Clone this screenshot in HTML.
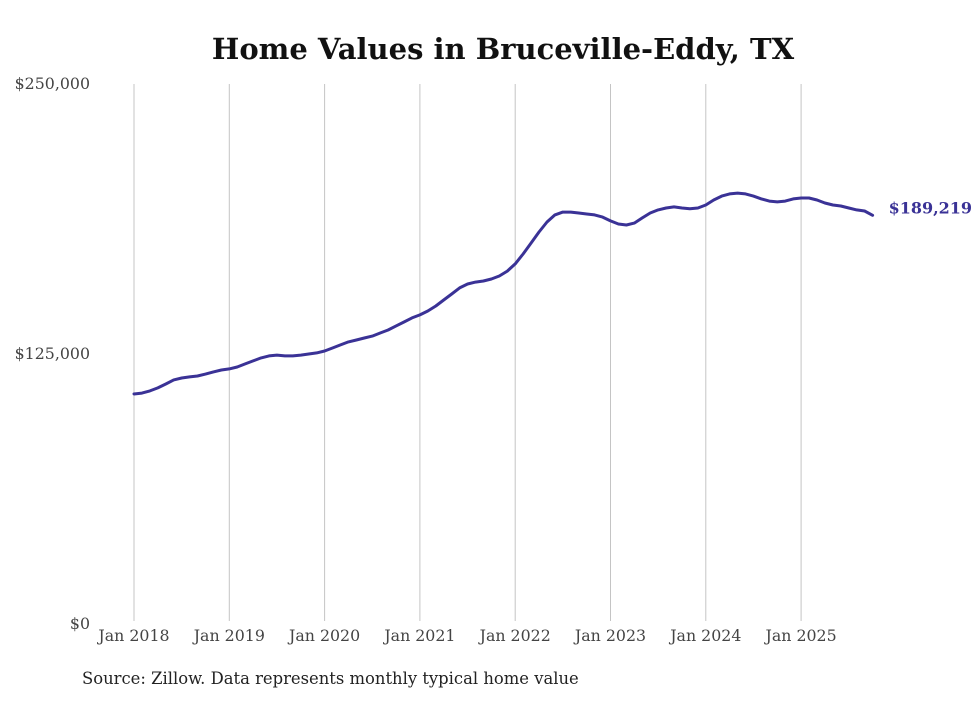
<!DOCTYPE html>
<html><head><meta charset="utf-8">
<style>
body{margin:0;background:#fff;width:980px;height:699px;overflow:hidden;font-family:"DejaVu Serif","Liberation Serif",serif;}
</style></head>
<body>
<svg id="chart" width="980" height="699" xmlns="http://www.w3.org/2000/svg">
<text x="503" y="59" text-anchor="middle" font-size="29" font-weight="bold" fill="#111">Home Values in Bruceville-Eddy, TX</text>
<g id="grid"></g>
<g id="yticks"></g>
<g id="xticks"></g>
<path id="line" fill="none" stroke="#3a3296" stroke-width="3" stroke-linejoin="round" stroke-linecap="round"/>
<text id="endlabel" font-size="16" font-weight="bold" fill="#3a3296"></text>
<text x="82" y="684" font-size="16.4" fill="#222">Source: Zillow. Data represents monthly typical home value</text>
</svg>
<script>
const yearLabels=["Jan 2018","Jan 2019","Jan 2020","Jan 2021","Jan 2022","Jan 2023","Jan 2024","Jan 2025"];
const yTickValues=[0,125000,250000];
const yTickLabels=["$0","$125,000","$250,000"];
const values=[
106.5,106.9,107.9,109.3,111.1,113.0,113.9,114.4,114.8,115.7,116.7,117.6,
118.1,119.0,120.4,121.8,123.2,124.1,124.5,124.1,124.1,124.5,125.0,125.5,
126.4,127.8,129.2,130.6,131.5,132.4,133.3,134.7,136.1,138.0,139.8,141.7,
143.1,144.9,147.2,150.0,152.8,155.6,157.4,158.3,158.8,159.7,161.1,163.4,
166.7,171.3,176.4,181.5,186.1,189.4,190.7,190.7,190.3,189.8,189.4,188.4,
186.6,185.2,184.7,185.6,188.0,190.3,191.7,192.6,193.1,192.6,192.2,192.6,
194.0,196.3,198.1,199.1,199.5,199.1,198.1,196.8,195.8,195.4,195.8,196.8,
197.2,197.2,196.3,194.9,194.0,193.5,192.6,191.7,191.2,189.219];
const NS="http://www.w3.org/2000/svg";
const x0=134,monthW=95.3/12,yBase=624,yTop=84,yMax=250000;
const xs=i=>x0+i*monthW;
const ys=v=>yBase-(v/yMax)*(yBase-yTop);
const grid=document.getElementById('grid'),xt=document.getElementById('xticks'),yt=document.getElementById('yticks');
yearLabels.forEach((l,i)=>{
  const x=xs(i*12);
  const ln=document.createElementNS(NS,'line');
  ln.setAttribute('x1',x);ln.setAttribute('x2',x);ln.setAttribute('y1',yTop);ln.setAttribute('y2',621);
  ln.setAttribute('stroke','#c4c4c4');ln.setAttribute('stroke-width','1');
  
  
  grid.appendChild(ln);
  const t=document.createElementNS(NS,'text');
  t.setAttribute('x',x);t.setAttribute('y',641);t.setAttribute('text-anchor','middle');
  t.setAttribute('font-size','15.8');t.setAttribute('fill','#444');t.textContent=l;
  
  
  xt.appendChild(t);
});
yTickValues.forEach((v,i)=>{
  const t=document.createElementNS(NS,'text');
  t.setAttribute('x',90);t.setAttribute('y',ys(v)+5);t.setAttribute('text-anchor','end');
  t.setAttribute('font-size','15.8');t.setAttribute('fill','#444');t.textContent=yTickLabels[i];
  
  
  yt.appendChild(t);
});
let d='';
values.forEach((v,i)=>{d+=(i?'L':'M')+xs(i).toFixed(1)+','+ys(v*1000).toFixed(1);});
document.getElementById('line').setAttribute('d',d);
const last=values[values.length-1]*1000;
const el=document.getElementById('endlabel');
el.setAttribute('x',xs(values.length-1)+16);el.setAttribute('y',ys(last)-2);
el.textContent='$'+Math.round(last).toLocaleString('en-US');
</script>
</body></html>
